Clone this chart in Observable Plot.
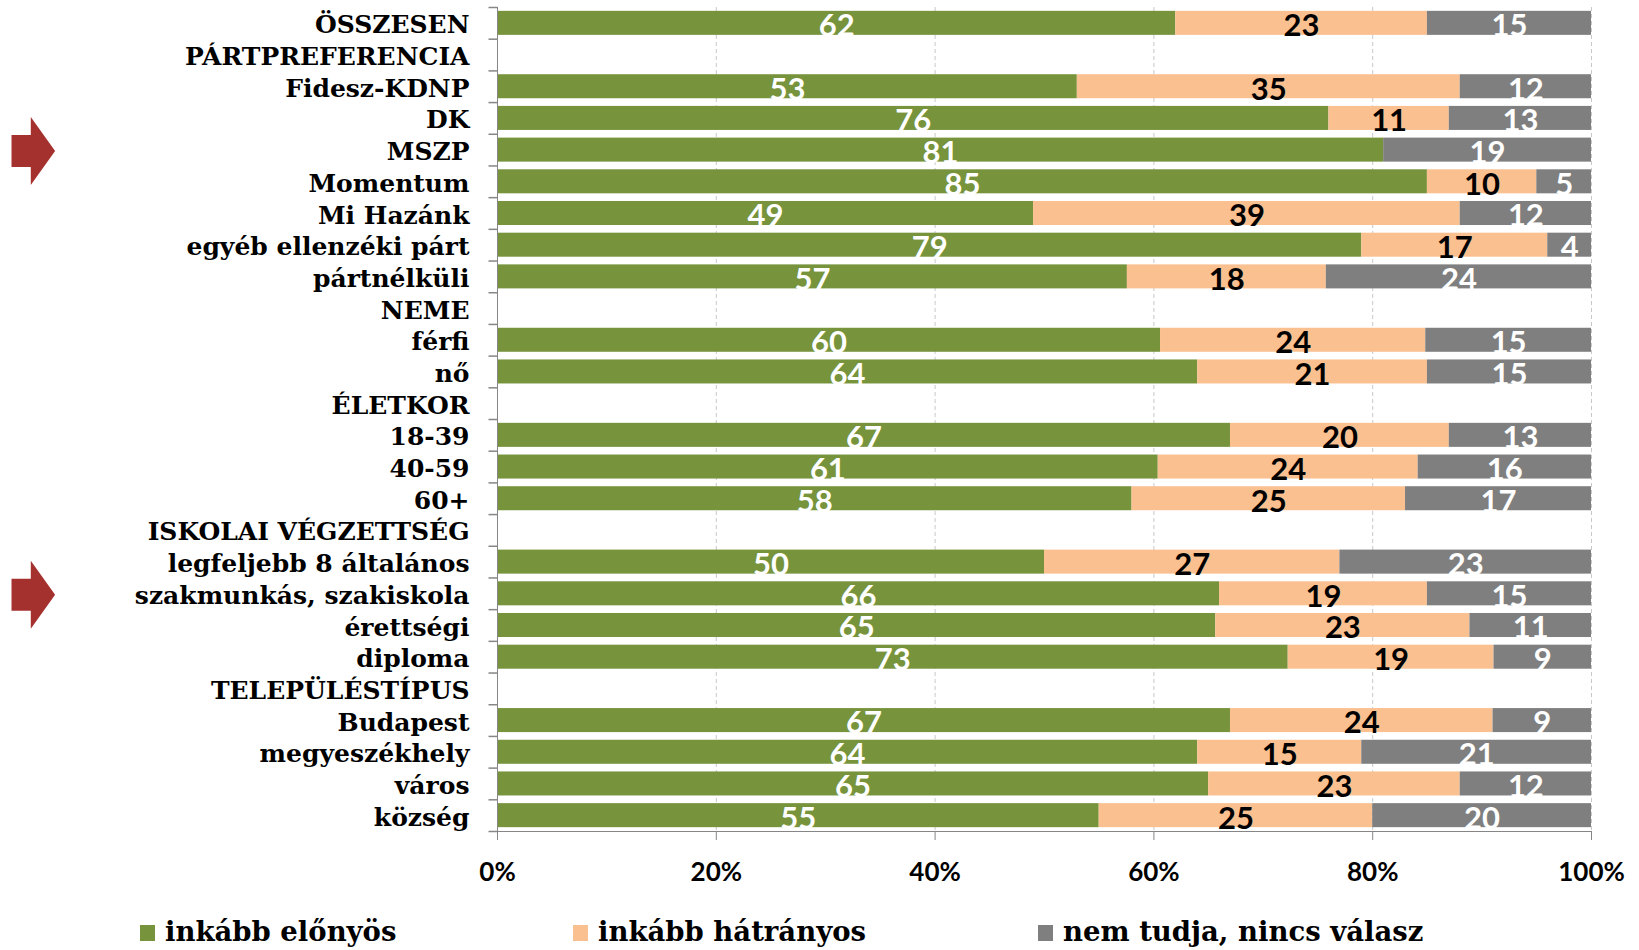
<!DOCTYPE html>
<html>
<head>
<meta charset="utf-8">
<script src="https://cdn.jsdelivr.net/npm/d3@7"></script>
<script src="https://cdn.jsdelivr.net/npm/@observablehq/plot@0.6"></script>
<style>
  html, body { margin: 0; padding: 0; background: #fff; }
  #wrap { position: relative; width: 1639px; height: 950px; }
  #legend { position: absolute; left: 140px; top: 918px; display: grid; grid-template-columns: 433px 465px auto;
            font-family: "DejaVu Serif", serif; font-weight: bold; font-size: 27.5px; line-height: 1; color: #000; }
  #legend .item { white-space: nowrap; }
  #legend .sw { display: inline-block; width: 15px; height: 16px; margin-right: 10px; vertical-align: baseline; }
</style>
</head>
<body>
<div id="wrap"><div id="chart"></div><div id="legend"></div></div>
<script>
const categories = ["ÖSSZESEN","PÁRTPREFERENCIA","Fidesz-KDNP","DK","MSZP","Momentum","Mi Hazánk","egyéb ellenzéki párt","pártnélküli","NEME","férfi","nő","ÉLETKOR","18-39","40-59","60+","ISKOLAI VÉGZETTSÉG","legfeljebb 8 általános","szakmunkás, szakiskola","érettségi","diploma","TELEPÜLÉSTÍPUS","Budapest","megyeszékhely","város","község"];
const series = ["inkább előnyös", "inkább hátrányos", "nem tudja, nincs válasz"];
const elonyos  = [62,null,53,76,81,85,49,79,57,null,60,64,null,67,61,58,null,50,66,65,73,null,67,64,65,55];
const hatranyos = [23,null,35,11,0,10,39,17,18,null,24,21,null,20,24,25,null,27,19,23,19,null,24,15,23,25];
const nemTudja = [15,null,12,13,19,5,12,4,24,null,15,15,null,13,16,17,null,23,15,11,9,null,9,21,12,20];
const highlighted = ["MSZP", "szakmunkás, szakiskola"];
const xTicks = [0, 0.2, 0.4, 0.6, 0.8, 1];
const xTickLabels = ["0%", "20%", "40%", "60%", "80%", "100%"];
const colors = ["#77933c", "#fac090", "#7f7f7f"];
const labelColors = ["#ffffff", "#000000", "#ffffff"];
const arrowColor = "#a5312f";
const axisColor = "#868686";
const gridColor = "#c8c8c8";

const seriesValues = [elonyos, hatranyos, nemTudja];
const rows = categories.flatMap((c, i) =>
  series.map((s, j) => ({category: c, series: s, value: seriesValues[j][i]}))
).filter(d => d.value != null);

const W = 1639, H = 895, mt = 7, mb = 64, ml = 497, mr = 48;
const step = (H - mt - mb) / categories.length;

const arrowSymbol = {
  draw(ctx) {
    ctx.moveTo(0, -16); ctx.lineTo(19.3, -16); ctx.lineTo(19.3, -34);
    ctx.lineTo(43.6, 0); ctx.lineTo(19.3, 34); ctx.lineTo(19.3, 16);
    ctx.lineTo(0, 16); ctx.closePath();
  }
};
const tickSymbol = { draw(ctx) { ctx.moveTo(-9, 0); ctx.lineTo(0, 0); } };

const numFont = {fontFamily: "Lato, 'Open Sans', sans-serif", fontWeight: "bold"};

const chart = Plot.plot({
  width: W, height: H, marginTop: mt, marginBottom: mb, marginLeft: ml, marginRight: mr,
  x: {domain: [0, 1]},
  y: {domain: categories, paddingInner: 0.242, paddingOuter: 0.121, round: false},
  color: {domain: series, range: colors},
  marks: [
    Plot.ruleX(xTicks.slice(1), {stroke: gridColor, strokeDasharray: "4,3"}),
    Plot.barX(rows, Plot.stackX({x: "value", y: "category", fill: "series", offset: "normalize"})),
    ...series.map((s, j) => Plot.text(rows, Plot.stackX({
      x: "value", y: "category", z: "series", offset: "normalize",
      text: d => (d.series === s && d.value > 0) ? String(d.value) : "",
      fill: labelColors[j], fontSize: 31, dy: 3, ...numFont
    }))),
    Plot.ruleX([0], {stroke: axisColor}),
    Plot.ruleY([categories[categories.length - 1]], {y: d => d, dy: step / 2, stroke: axisColor}),
    Plot.dot(categories, {y: d => d, frameAnchor: "left", dy: -step / 2, symbol: tickSymbol, stroke: axisColor, fill: "none"}),
    Plot.dot([categories[categories.length - 1]], {y: d => d, frameAnchor: "left", dy: step / 2, symbol: tickSymbol, stroke: axisColor, fill: "none"}),
    Plot.dot(highlighted, {y: d => d, frameAnchor: "left", dx: -486, dy: 1, symbol: arrowSymbol, fill: arrowColor, stroke: "none"}),
    Plot.axisX({ticks: xTicks, tickFormat: d => xTickLabels[xTicks.indexOf(d)], tickSize: 9, tickPadding: 22, label: null,
      stroke: axisColor, fill: "#000", fontSize: 26, ...numFont}),
    Plot.axisY({tickSize: 0, tickPadding: 28, label: null, fontSize: 25, fontWeight: "bold", fontFamily: "'DejaVu Serif', serif", fill: "#000", dy: 2})
  ]
});
document.getElementById("chart").appendChild(chart);

const legend = document.getElementById("legend");
series.forEach((s, j) => {
  const item = document.createElement("div");
  item.className = "item";
  const sw = document.createElement("span");
  sw.className = "sw";
  sw.style.background = colors[j];
  item.appendChild(sw);
  item.appendChild(document.createTextNode(s));
  legend.appendChild(item);
});
</script>
</body>
</html>
